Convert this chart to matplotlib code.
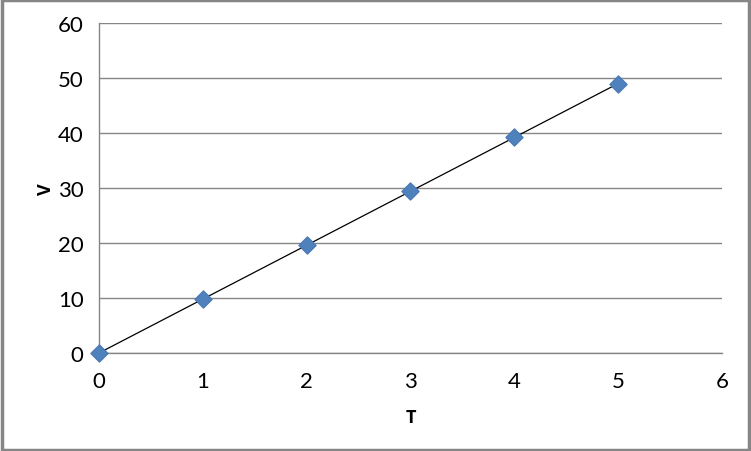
import matplotlib
matplotlib.use("Agg")
import matplotlib.pyplot as plt
from matplotlib.patches import Rectangle

plt.rcParams['font.family'] = ['Lato', 'DejaVu Sans']

# time and velocity readings
t = [0, 1, 2, 3, 4, 5]
v = [0, 9.8, 19.6, 29.4, 39.2, 49.0]

fig = plt.figure(figsize=(7.51, 4.52), dpi=100)
ax = fig.add_axes([0.1318, 0.2168, 0.8296, 0.7301])

ax.plot(t, v, color="black", linewidth=0.9, zorder=2)
ax.scatter(t, v, marker="D", s=75, color="#4f81bd", edgecolor="#4a7ab5",
           zorder=3, clip_on=False)

ax.set_xlim(0, 6)
ax.set_ylim(0, 60)
ax.set_xticks(range(0, 7))
ax.set_yticks(range(0, 61, 10))
ax.yaxis.grid(True, color="#868686", linewidth=1)
ax.set_axisbelow(True)

for s in ["top", "right"]:
    ax.spines[s].set_visible(False)
for s in ["left", "bottom"]:
    ax.spines[s].set_color("#868686")
    ax.spines[s].set_linewidth(1)

ax.tick_params(length=0, labelsize=16)
ax.tick_params(axis="x", pad=13)
ax.tick_params(axis="y", pad=11)
ax.set_xlabel("T", fontsize=13, fontweight="bold", family="Open Sans", labelpad=12)
ax.set_ylabel("V", fontsize=13, fontweight="bold", family="Open Sans", labelpad=2)

fig.patches.append(Rectangle((0.002, 0.003), 0.995, 0.994, transform=fig.transFigure,
                             fill=False, edgecolor="#868686", linewidth=2.5))

fig.savefig("out.png", dpi=100)
